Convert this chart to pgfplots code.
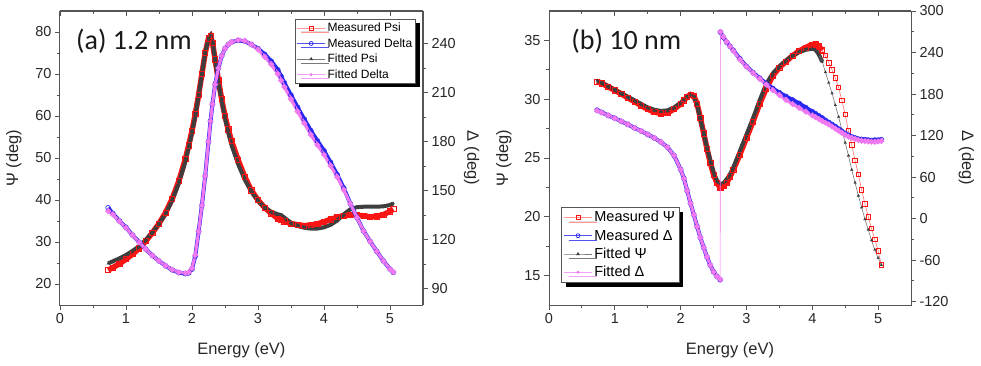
\documentclass[border=0pt]{standalone}
\usepackage{fontspec}
\setmainfont{Liberation Sans}
\newfontfamily\titlefont{Carlito}
\usepackage{pgfplots}
\pgfplotsset{compat=1.18}
\usepackage{pgfplotstable}
\usetikzlibrary{shadows}

\definecolor{mred}{RGB}{250,20,20}
\definecolor{mblue}{RGB}{40,40,240}
\definecolor{fgray}{RGB}{62,62,62}
\definecolor{fpink}{RGB}{240,120,240}
\definecolor{axgray}{RGB}{85,85,85}

% Panel (a) 1.2 nm
\pgfplotstableread{
E psiM delM psiF delF
0.73 23.3 139.5 24.9 137.5
0.80 23.9 136.0 25.4 135.5
0.90 24.8 131.5 26.1 131.3
1.00 25.9 127.5 26.9 127.3
1.10 27.1 122.8 27.9 122.7
1.20 28.5 118.5 29.0 118.4
1.30 30.2 114.2 30.5 114.2
1.40 32.2 110.3 32.3 110.3
1.50 34.4 107.0 34.3 107.0
1.60 37.0 104.0 36.7 104.0
1.70 40.3 101.5 39.9 101.6
1.80 44.5 99.8 44.0 100.0
1.90 49.8 99.2 49.2 99.5
1.95 53.0 99.6 52.5 100.0
2.00 56.5 102.0 56.0 102.5
2.05 60.5 110.0 60.0 110.5
2.10 65.0 125.0 64.8 125.0
2.15 70.0 141.0 70.0 141.0
2.20 75.0 159.0 75.0 159.0
2.25 78.5 180.0 78.5 180.0
2.28 79.0 192.5 79.2 192.5
2.31 77.5 203.0 77.8 203.0
2.35 73.5 215.0 73.5 215.0
2.40 68.5 225.0 68.0 225.0
2.45 64.0 232.5 63.5 232.5
2.50 60.0 237.0 59.5 237.0
2.55 56.8 239.5 56.0 239.5
2.60 54.0 241.0 53.0 241.0
2.70 49.5 242.0 48.5 242.2
2.80 45.5 241.5 44.8 241.7
2.90 42.3 239.5 42.0 239.5
3.00 40.0 237.0 39.8 236.5
3.10 38.2 233.5 38.2 232.0
3.20 36.8 229.3 37.2 227.3
3.30 35.6 224.0 36.6 221.5
3.35 35.2 220.0 36.4 217.5
3.40 34.9 216.0 35.8 213.5
3.50 34.4 208.5 34.6 206.0
3.60 34.1 201.0 33.8 198.5
3.70 33.9 193.8 33.4 191.3
3.80 34.0 186.8 33.2 184.3
3.90 34.3 180.5 33.2 178.0
4.00 34.8 174.5 33.5 172.0
4.10 35.4 167.3 34.1 165.3
4.20 35.9 159.8 35.1 158.3
4.30 36.3 151.5 36.6 150.5
4.40 36.5 142.0 37.8 142.0
4.50 36.4 133.5 38.3 133.5
4.60 36.2 125.3 38.4 125.3
4.70 36.0 119.0 38.4 119.0
4.80 36.1 112.8 38.4 112.8
4.90 36.5 107.0 38.5 107.0
5.00 37.3 102.0 38.8 102.0
5.05 37.8 100.0 39.2 100.2
}\dataA

% Panel (b) 10 nm
\pgfplotstableread{
E psiM delM psiF delF
0.73 31.5 156.7 31.6 156.0
0.80 31.35 153.5 31.4 153.2
0.90 31.05 149.0 31.1 149.0
1.00 30.75 145.0 30.8 145.0
1.10 30.45 140.5 30.5 140.5
1.20 30.1 136.0 30.2 136.0
1.30 29.8 131.0 29.9 131.0
1.40 29.45 126.5 29.6 126.5
1.50 29.15 121.5 29.3 121.5
1.60 28.9 116.5 29.1 116.5
1.70 28.8 110.5 29.0 110.5
1.80 28.85 103.0 29.05 103.0
1.90 29.15 91.0 29.3 91.0
2.00 29.6 71.0 29.7 71.0
2.05 29.9 58.0 29.95 58.0
2.10 30.2 40.0 30.2 40.0
2.15 30.4 22.0 30.35 22.0
2.20 30.3 5.5 30.2 5.5
2.25 29.6 -11.5 29.5 -11.5
2.30 28.4 -27.5 28.3 -27.5
2.35 27.1 -42.0 27.1 -42.0
2.40 25.8 -55.5 25.9 -55.5
2.45 24.6 -67.5 24.8 -67.5
2.50 23.6 -77.0 23.8 -77.0
2.55 22.9 -83.5 23.1 -83.5
2.60 22.5 -88.5 22.8 -88.0
2.605 22.5 269.5 22.8 270.0
2.65 22.6 262.0 22.85 262.5
2.70 22.9 255.0 23.2 255.5
2.75 23.4 249.0 23.6 249.0
2.80 24.0 243.0 24.2 242.5
2.90 25.3 231.0 25.6 230.0
3.00 26.7 220.0 27.0 219.5
3.10 28.1 211.0 28.4 210.5
3.20 29.6 203.0 29.9 202.0
3.30 30.9 195.0 31.3 193.5
3.40 32.0 188.0 32.2 185.5
3.50 32.7 182.0 32.8 178.5
3.60 33.2 176.5 33.3 171.5
3.70 33.7 171.5 33.7 165.5
3.80 34.1 166.5 34.0 160.0
3.90 34.4 160.5 34.2 154.5
4.00 34.65 154.5 34.3 149.0
4.05 34.7 151.5 34.2 146.5
4.10 34.5 148.5 33.8 144.0
4.15 34.15 145.5 33.2 141.0
4.20 33.7 142.0 32.3 138.5
4.25 33.1 139.0 31.4 136.0
4.30 32.5 136.0 30.5 133.0
4.35 31.8 133.0 29.5 130.0
4.40 31.0 129.5 28.5 127.0
4.45 29.9 126.0 27.4 124.0
4.50 28.7 123.0 26.3 121.0
4.55 27.3 120.5 25.2 118.5
4.60 26.1 118.0 24.0 116.5
4.65 24.8 116.5 22.9 115.0
4.70 23.6 115.0 21.8 113.5
4.75 22.3 114.5 20.8 112.5
4.80 21.1 114.0 19.8 112.0
4.85 20.0 113.5 18.9 111.5
4.90 19.0 113.0 18.0 111.0
4.95 18.1 113.5 17.2 111.0
5.00 17.1 113.5 16.5 111.5
5.05 15.9 114.0 15.9 112.0
}\dataB

\pgfplotsset{
  common/.style={
    scale only axis, anchor=south west, height=294pt,
    xmin=0, xmax=5.5,
    tick align=outside, major tick length=5pt, minor tick length=3pt,
    axis line style={axgray, line width=1pt},
    tick style={axgray, line width=0.9pt},
    ticklabel style={font=\fontsize{14.5}{17}\selectfont, text=black!85},
    label style={font=\fontsize{16.5}{19}\selectfont, text=black!85},
    /pgf/number format/assume math mode=true,
    legend cell align=left,
    legend image code/.code={
      \draw[mark repeat=2, mark phase=2, ##1] plot coordinates {(0pt,0pt) (14pt,0pt) (28pt,0pt)};
    },
  },
  topticks/.style={common, ymin=0, ymax=1, axis y line=none, axis x line*=top,
    xtick={0,1,...,5}, minor x tick num=1, xticklabels={}, tick align=inside},
  % data styles
  psiM/.style={draw=mred, line width=5.5pt, mark=square, mark size=2.6pt,
    mark options={draw=mred, line width=0.7pt, fill=none, solid}, forget plot},
  psiMthin/.style={draw=mred!60, line width=0.6pt, mark=square, mark size=2.2pt,
    mark options={draw=mred, line width=0.8pt, fill=none, solid}, forget plot},
  psiF/.style={draw=fgray, line width=4pt, mark=triangle*, mark size=1.4pt,
    mark options={draw=fgray, fill=fgray, line width=0.3pt, solid}, forget plot},
  psiFthin/.style={draw=fgray!70, line width=0.6pt, mark=triangle*, mark size=1.5pt,
    mark options={draw=fgray, fill=fgray, line width=0.3pt, solid}, forget plot},
  delM/.style={draw=mblue, line width=4pt, mark=o, mark size=2.4pt,
    mark options={draw=mblue, line width=0.7pt, fill=none, solid}, forget plot},
  delF/.style={draw=fpink, line width=3pt, mark=*, mark size=1.1pt,
    mark options={draw=fpink, fill=fpink, solid}, forget plot},
  % legend styles
  legPsiM/.style={draw=mred!45, line width=0.7pt, mark=square, mark size=2pt,
    mark options={draw=mred, line width=0.7pt, fill=white, solid}},
  legDelM/.style={draw=mblue!80, line width=0.7pt, mark=o, mark size=2pt,
    mark options={draw=mblue, line width=0.7pt, fill=white, solid}},
  legPsiF/.style={draw=fgray!70, line width=0.7pt, mark=triangle*, mark size=1.4pt,
    mark options={draw=fgray, fill=fgray, solid}},
  legDelF/.style={draw=fpink!70, line width=0.7pt, mark=*, mark size=1.1pt,
    mark options={draw=fpink, fill=fpink, solid}},
}

\begin{document}
\begin{tikzpicture}
\path[use as bounding box] (0pt,0pt) rectangle (981pt,365pt);

% ---------------- Panel (a) ----------------
\begin{axis}[common, at={(60pt,60pt)}, width=363pt,
  ymin=15, ymax=85, ytick={20,30,...,80}, minor y tick num=1,
  xtick={0,1,...,5}, minor x tick num=1,
  xtick pos=left, ytick pos=left,
  xlabel={Energy (eV)}, ylabel={Ψ (deg)},
  xlabel style={at={(axis description cs:0.5,-0.153)}, anchor=center},
  ylabel style={at={(axis description cs:-0.127,0.5)}, anchor=center}]
\addplot[psiM] table[x=E, y=psiM] {\dataA};
\addplot[psiF] table[x=E, y=psiF] {\dataA};
\node[anchor=west, font=\titlefont\fontsize{28}{30}\selectfont, text=black!90]
  at (rel axis cs:0.035,0.896) {(a) 1.2 nm};
\end{axis}

\begin{axis}[common, at={(60pt,60pt)}, width=363pt,
  ymin=80, ymax=260, ytick={90,120,...,240}, minor y tick num=1,
  axis y line*=right, axis x line=none,
  ylabel={Δ (deg)},
  ylabel style={at={(axis description cs:1.134,0.5)}, anchor=center, rotate=180},
  legend style={at={(0.981,0.973)}, anchor=north east,
    font=\fontsize{12}{13}\selectfont, draw=axgray, line width=0.7pt, fill=white,
    row sep=1.4pt, inner sep=1.5pt,
    drop shadow={shadow xshift=4pt, shadow yshift=-4pt, fill=black, opacity=1}}]
\addplot[delM] table[x=E, y=delM] {\dataA};
\addplot[delF] table[x=E, y=delF] {\dataA};
\addlegendimage{legPsiM}
\addlegendentry{Measured Psi}
\addlegendimage{legDelM}
\addlegendentry{Measured Delta}
\addlegendimage{legPsiF}
\addlegendentry{Fitted Psi}
\addlegendimage{legDelF}
\addlegendentry{Fitted Delta}
\end{axis}

\begin{axis}[topticks, at={(60pt,60pt)}, width=363pt]
\end{axis}

% ---------------- Panel (b) ----------------
\begin{axis}[common, at={(549pt,60pt)}, width=362pt,
  ymin=12.5, ymax=37.5, ytick={15,20,...,35}, minor y tick num=1,
  xtick={0,1,...,5}, minor x tick num=1,
  xtick pos=left, ytick pos=left,
  xlabel={Energy (eV)}, ylabel={Ψ (deg)},
  xlabel style={at={(axis description cs:0.5,-0.153)}, anchor=center},
  ylabel style={at={(axis description cs:-0.125,0.5)}, anchor=center}]
\addplot[psiM, restrict x to domain=0:4.16] table[x=E, y=psiM] {\dataB};
\addplot[psiMthin, restrict x to domain=4.09:6] table[x=E, y=psiM] {\dataB};
\addplot[psiF, restrict x to domain=0:4.16] table[x=E, y=psiF] {\dataB};
\addplot[psiFthin, restrict x to domain=4.09:6] table[x=E, y=psiF] {\dataB};
\node[anchor=west, font=\titlefont\fontsize{28}{30}\selectfont, text=black!90]
  at (rel axis cs:0.052,0.896) {(b) 10 nm};
\end{axis}

\begin{axis}[common, at={(549pt,60pt)}, width=362pt,
  ymin=-125, ymax=300, ytick={-120,-60,...,300}, minor y tick num=1,
  yticklabels={-120,-60,0,60,120,180,240,300},
  axis y line*=right, axis x line=none,
  ylabel={Δ (deg)},
  ylabel style={at={(axis description cs:1.153,0.5)}, anchor=center, rotate=180},
  legend style={at={(0.034,0.076)}, anchor=south west,
    font=\fontsize{14.5}{16}\selectfont, draw=axgray, line width=0.7pt, fill=white,
    row sep=2.3pt, inner sep=2pt,
    drop shadow={shadow xshift=4.5pt, shadow yshift=-4.5pt, fill=black, opacity=1}}]
\addplot[delM, restrict x to domain=0:2.602] table[x=E, y=delM] {\dataB};
\addplot[delM, restrict x to domain=2.603:6] table[x=E, y=delM] {\dataB};
\addplot[fpink, line width=0.6pt, forget plot] table[x=E, y=delF] {\dataB};
\addplot[delF, restrict x to domain=0:2.602] table[x=E, y=delF] {\dataB};
\addplot[delF, restrict x to domain=2.603:6] table[x=E, y=delF] {\dataB};
\addlegendimage{legPsiM}
\addlegendentry{Measured Ψ}
\addlegendimage{legDelM}
\addlegendentry{Measured Δ}
\addlegendimage{legPsiF}
\addlegendentry{Fitted Ψ}
\addlegendimage{legDelF}
\addlegendentry{Fitted Δ}
\end{axis}

\begin{axis}[topticks, at={(549pt,60pt)}, width=362pt]
\end{axis}

\end{tikzpicture}
\end{document}
